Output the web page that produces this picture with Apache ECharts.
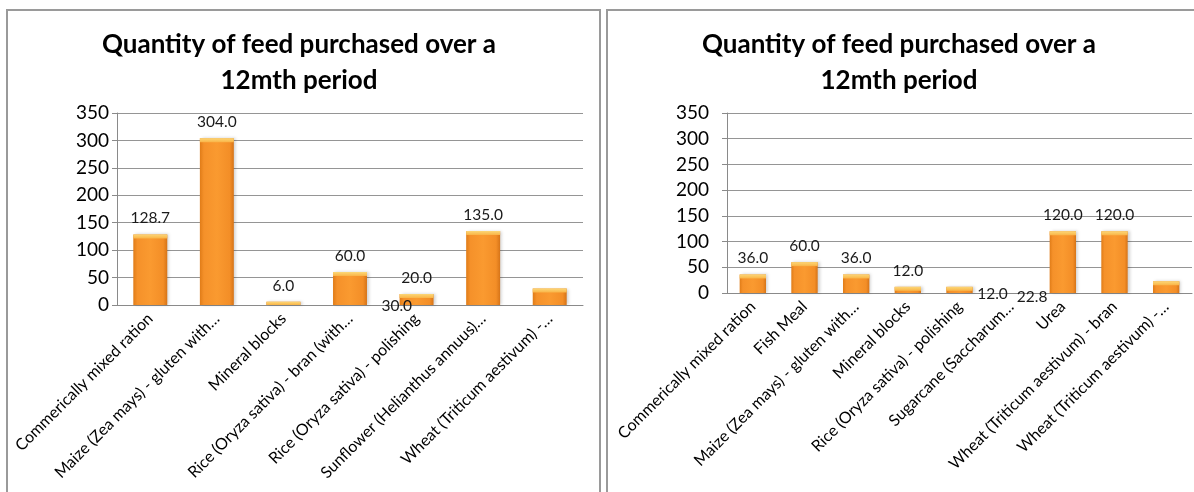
<!DOCTYPE html>
<html>
<head>
<meta charset="utf-8">
<style>
  html, body { margin: 0; padding: 0; background: #ffffff; }
  #chart { width: 1194px; height: 492px; }
</style>
<script src="https://cdn.jsdelivr.net/npm/echarts@6/dist/echarts.min.js"></script>
</head>
<body>
<div id="chart"></div>
<script>
// Feed purchases over 12 months, two farms side by side
const titleText = 'Quantity of feed purchased over a\n12mth period';

const leftCategories = [
  'Commerically mixed ration',
  'Maize (Zea mays) - gluten with\u2026',
  'Mineral blocks',
  'Rice (Oryza sativa) - bran (with\u2026',
  'Rice (Oryza sativa) - polishing',
  'Sunflower (Helianthus annuus)\u2026',
  'Wheat (Triticum aestivum) -\u2026'
];
const leftValues = [128.7, 304.0, 6.0, 60.0, 20.0, 135.0, 30.0];

const rightCategories = [
  'Commerically mixed ration',
  'Fish Meal',
  'Maize (Zea mays) - gluten with\u2026',
  'Mineral blocks',
  'Rice (Oryza sativa) - polishing',
  'Sugarcane (Saccharum\u2026',
  'Urea',
  'Wheat (Triticum aestivum) - bran',
  'Wheat (Triticum aestivum) -\u2026'
];
const rightValues = [36.0, 60.0, 36.0, 12.0, 12.0, null, 120.0, 120.0, 22.8];

const yMin = 0, yMax = 350, yStep = 50;

// a few value labels sit away from their bars
const leftLabelShift = { 6: [-153, 33] };
const rightLabelShift = { 4: [33, 23], 8: [-134, 32] };

const FONT = 'Lato, "Open Sans", sans-serif';
const AXIS_GRAY = '#8a8a8a';

const barFill = new echarts.graphic.LinearGradient(0, 0, 1, 0, [
  { offset: 0, color: '#E07C18' },
  { offset: 0.12, color: '#F5912A' },
  { offset: 0.5, color: '#FA9A30' },
  { offset: 0.88, color: '#F38E27' },
  { offset: 1, color: '#D67418' }
]);

function withShifts(values, shifts) {
  return values.map((v, i) => shifts[i] ? { value: v, label: { offset: shifts[i] } } : v);
}

// light bevel strip on top of every bar
function capSeries(idx, values) {
  return {
    type: 'custom',
    xAxisIndex: idx, yAxisIndex: idx,
    z: 5,
    silent: true,
    data: values.map((v, i) => [i, v]),
    renderItem: function (params, api) {
      const v = api.value(1);
      if (v == null || isNaN(v)) return null;
      const top = api.coord([api.value(0), v]);
      const base = api.coord([api.value(0), 0]);
      const w = api.size([1, 0])[0] * 0.51;
      const h = Math.min(4, base[1] - top[1]);
      return {
        type: 'rect',
        shape: { x: top[0] - w / 2, y: top[1], width: w, height: h },
        style: {
          fill: new echarts.graphic.LinearGradient(0, 0, 0, 1, [
            { offset: 0, color: '#FCD777' },
            { offset: 1, color: '#F9B447' }
          ])
        }
      };
    }
  };
}

function xAxisFor(idx, cats) {
  return {
    type: 'category', gridIndex: idx, data: cats,
    axisLine: { lineStyle: { color: AXIS_GRAY } },
    axisTick: { length: 6, lineStyle: { color: AXIS_GRAY } },
    axisLabel: { rotate: 45, interval: 0, fontSize: 16, color: '#000', fontFamily: FONT, margin: 11 }
  };
}

function yAxisFor(idx, margin) {
  return {
    type: 'value', gridIndex: idx, min: yMin, max: yMax, interval: yStep,
    axisLine: { show: true, lineStyle: { color: AXIS_GRAY } },
    axisTick: { show: true, length: 5, lineStyle: { color: AXIS_GRAY } },
    splitLine: { lineStyle: { color: '#959595' } },
    axisLabel: { fontSize: 19, color: '#000', fontFamily: FONT, margin: margin }
  };
}

function barSeries(idx, values, shifts) {
  return {
    type: 'bar', xAxisIndex: idx, yAxisIndex: idx,
    barWidth: '51%',
    data: withShifts(values, shifts),
    itemStyle: { color: barFill, shadowColor: 'rgba(0,0,0,0.18)', shadowBlur: 3, shadowOffsetX: 2 },
    label: {
      show: true, position: 'top', distance: 8,
      fontSize: 15.5, color: '#1a1a1a', fontFamily: FONT,
      formatter: p => p.value == null ? '' : Number(p.value).toFixed(1)
    }
  };
}

const titleStyle = { fontSize: 26, fontWeight: 'bold', color: '#000', fontFamily: FONT, lineHeight: 36 };

const chart = echarts.init(document.getElementById('chart'), null, { renderer: 'canvas' });
chart.setOption({
  backgroundColor: '#ffffff',
  animation: false,
  title: [
    { text: titleText, left: 294, top: 22, textAlign: 'center', textStyle: titleStyle },
    { text: titleText, left: 894, top: 22, textAlign: 'center', textStyle: titleStyle }
  ],
  graphic: [
    { type: 'rect', shape: { x: 7, y: 10, width: 593, height: 500 },
      style: { fill: 'none', stroke: '#9a9a9a', lineWidth: 2 }, z: -1 },
    { type: 'rect', shape: { x: 607, y: 10, width: 620, height: 500 },
      style: { fill: 'none', stroke: '#9a9a9a', lineWidth: 2 }, z: -1 }
  ],
  grid: [
    { left: 117, top: 113, width: 466, height: 192 },
    { left: 727, top: 113, width: 465, height: 180 }
  ],
  xAxis: [xAxisFor(0, leftCategories), xAxisFor(1, rightCategories)],
  yAxis: [yAxisFor(0, 8), yAxisFor(1, 18)],
  series: [
    barSeries(0, leftValues, leftLabelShift),
    capSeries(0, leftValues),
    barSeries(1, rightValues, rightLabelShift),
    capSeries(1, rightValues)
  ]
});
</script>
</body>
</html>
